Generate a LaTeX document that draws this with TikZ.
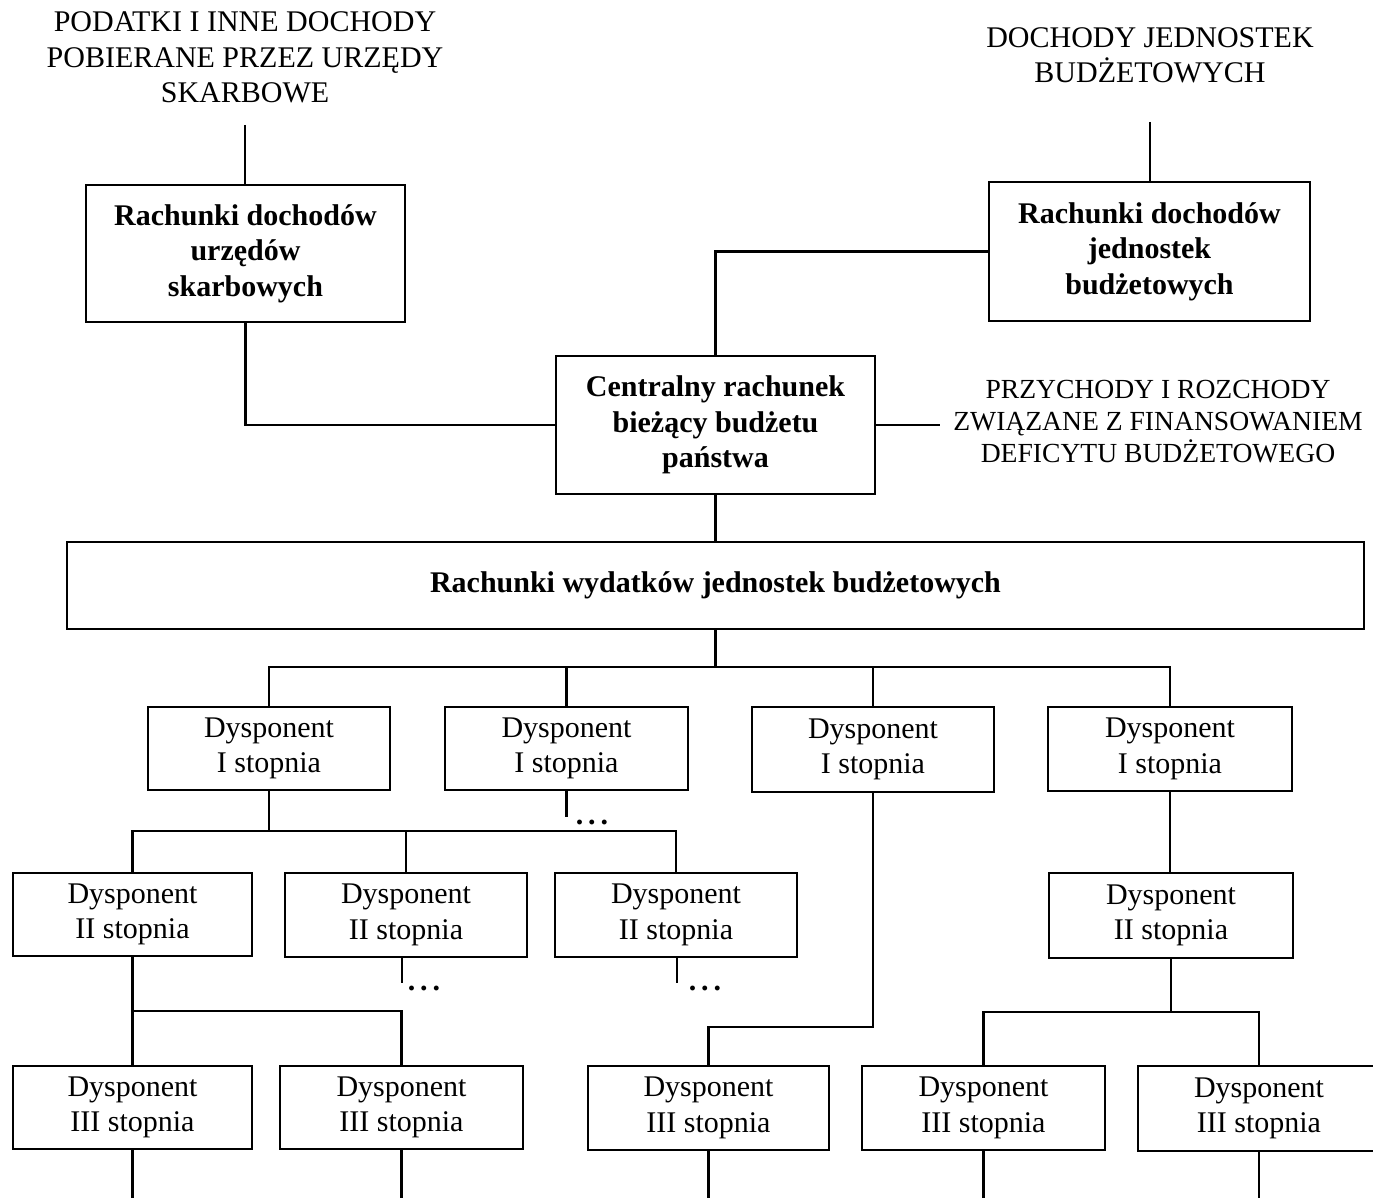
\documentclass[tikz,border=0pt]{standalone}
\usepackage{fontspec}
\setmainfont{Liberation Serif}
\begin{document}
\begin{tikzpicture}[x=1pt,y=-1pt,
  every node/.style={font=\fontsize{30}{35.5}\selectfont, align=center, inner sep=0pt},
  box/.style={draw, line width=2.2pt},
  bbox/.style={box, font=\fontsize{30}{35.5}\selectfont\bfseries},
  link/.style={line width=2.2pt},
  dots/.style={font=\fontsize{30}{30}\selectfont\bfseries}]
\useasboundingbox (0,0) rectangle (1373,1198);
\fill[white] (0,0) rectangle (1373,1198);

% sources of revenue
\node (t1) at (245,57.5) {PODATKI I INNE DOCHODY\\POBIERANE PRZEZ URZĘDY\\SKARBOWE};
\node (t2) at (1150,55.5) {DOCHODY JEDNOSTEK\\BUDŻETOWYCH};
\node[font=\fontsize{27.6}{32}\selectfont, inner xsep=13pt] (rz) at (1158,422) {PRZYCHODY I ROZCHODY\\ZWIĄZANE Z FINANSOWANIEM\\DEFICYTU BUDŻETOWEGO};
\coordinate (t1end) at (245,125);
\coordinate (t2end) at (1150,122);

% accounts
\node[bbox, minimum width=319, minimum height=137] (r1) at (245.5,253.5) {Rachunki dochodów\\urzędów\\skarbowych};
\node[bbox, minimum width=321, minimum height=139] (r2) at (1149.5,251.5) {Rachunki dochodów\\jednostek\\budżetowych};
\node[bbox, minimum width=319, minimum height=138] (central) at (715.5,425) {Centralny rachunek\\bieżący budżetu\\państwa};
\node[bbox, minimum width=1297, minimum height=87] (wide) at (715.5,585.5) {Rachunki wydatków jednostek budżetowych};

% first level
\node[box, minimum width=242, minimum height=83] (dA) at (269,748.5) {Dysponent\\I stopnia};
\node[box, minimum width=243, minimum height=83] (dB) at (566.5,748.5) {Dysponent\\I stopnia};
\node[box, minimum width=242, minimum height=85] (dC) at (873,749.5) {Dysponent\\I stopnia};
\node[box, minimum width=244, minimum height=84] (dD) at (1170,749) {Dysponent\\I stopnia};

% second level
\node[box, minimum width=239, minimum height=83] (dE) at (132.5,914.5) {Dysponent\\II stopnia};
\node[box, minimum width=242, minimum height=84] (dF) at (406,915) {Dysponent\\II stopnia};
\node[box, minimum width=242, minimum height=84] (dG) at (676,915) {Dysponent\\II stopnia};
\node[box, minimum width=244, minimum height=85] (dH) at (1171,915.5) {Dysponent\\II stopnia};

% third level
\node[box, minimum width=239, minimum height=83] (dI) at (132.5,1107.5) {Dysponent\\III stopnia};
\node[box, minimum width=243, minimum height=83] (dJ) at (401.5,1107.5) {Dysponent\\III stopnia};
\node[box, minimum width=241, minimum height=84] (dK) at (708.5,1108) {Dysponent\\III stopnia};
\node[box, minimum width=243, minimum height=84] (dL) at (983.5,1108) {Dysponent\\III stopnia};
\node[box, minimum width=242, minimum height=85] (dM) at (1259,1108.5) {Dysponent\\III stopnia};

% continuation marks
\node[dots] (o1) at (592,822) {.\,.\,.};
\node[dots] (o2) at (424,988) {.\,.\,.};
\node[dots] (o3) at (705,988) {.\,.\,.};
\coordinate (e1) at (566.5,817);
\coordinate (e2) at (402,983);
\coordinate (e3) at (677,983);

% bus levels
\coordinate (bus1) at (715.5,667);
\coordinate (bus2) at (269,831);
\coordinate (bus3) at (0,1011);
\coordinate (bus4) at (0,1027);
\coordinate (bus5) at (0,1012);
\coordinate (bottom) at (0,1205);

% connectors
\draw[link] (t1end) -- (t1end |- r1.north);
\draw[link] (t2end) -- (t2end |- r2.north);
\draw[link] (r1.south) |- (central.west);
\draw[link] (r2.west) -| (central.north);
\draw[link] (central.east) -- (central.east -| rz.west);
\draw[link] (central.south) -- (wide.north);
\draw[link] (wide.south) -- (bus1);
\draw[link] (dA.north) |- (bus1) -| (dD.north);
\draw[link] (dB.north) -- (dB.north |- bus1);
\draw[link] (dC.north) -- (dC.north |- bus1);

\draw[link] (dA.south) -- (bus2);
\draw[link] (dE.north) |- (bus2) -| (dG.north);
\draw[link] (dF.north) -- (dF.north |- bus2);
\draw[link] (dD.south) -- (dD.south |- dH.north);

\draw[link] (dB.south) -- (e1);
\draw[link] (e2 |- dF.south) -- (e2);
\draw[link] (e3 |- dG.south) -- (e3);

\draw[link] (dE.south) -- (dI.north);
\draw[link] (dE.south |- bus3) -| (dJ.north);
\draw[link] (dC.south) -- (dC.south |- bus4) -| (dK.north);
\draw[link] (dH.south) -- (dH.south |- bus5);
\draw[link] (dL.north) |- (dH.south |- bus5) -| (dM.north);

\foreach \b in {dI,dJ,dK,dL,dM}
  \draw[link] (\b.south) -- (\b.south |- bottom);
\end{tikzpicture}
\end{document}
